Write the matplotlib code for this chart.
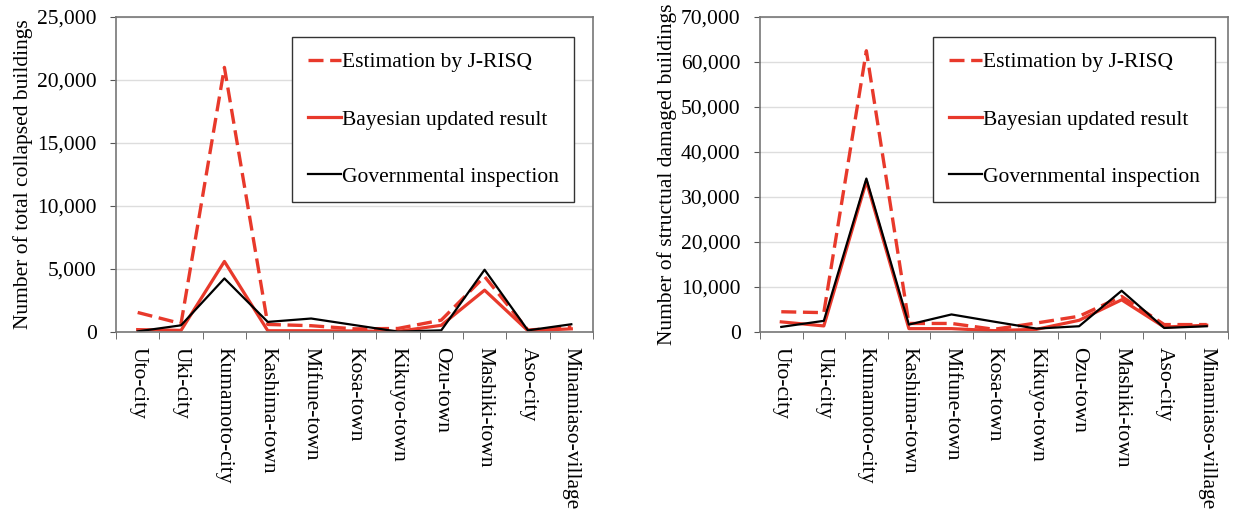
import matplotlib
matplotlib.use("Agg")
import matplotlib.pyplot as plt
from matplotlib.ticker import FuncFormatter, FixedLocator
import numpy as np

plt.rcParams['font.family'] = ['Liberation Serif', 'DejaVu Serif']

categories = ["Uto-city", "Uki-city", "Kumamoto-city", "Kashima-town", "Mifune-town",
              "Kosa-town", "Kikuyo-town", "Ozu-town", "Mashiki-town", "Aso-city",
              "Minamiaso-village"]

collapsed_jrisq = [1550, 670, 21000, 600, 500, 250, 280, 940, 4400, 150, 400]
collapsed_bayes = [190, 130, 5600, 100, 100, 80, 50, 530, 3320, 100, 250]
collapsed_gov = [50, 530, 4250, 800, 1070, 550, 30, 130, 4940, 130, 615]

damaged_jrisq = [4500, 4300, 62500, 1900, 1900, 600, 2000, 3500, 7900, 1650, 1650]
damaged_bayes = [2250, 1350, 33500, 750, 750, 300, 600, 2600, 7150, 1100, 1500]
damaged_gov = [1130, 2480, 34100, 1650, 3900, 2300, 750, 1280, 9170, 900, 1280]

labels = ["Estimation by J-RISQ", "Bayesian updated result", "Governmental inspection"]
red = "#e8392b"

fig = plt.figure(figsize=(12.34, 5.11), dpi=100)
ax1 = fig.add_axes([116/1234, 1-332/511, 477/1234, 315/511])
ax2 = fig.add_axes([760/1234, 1-332/511, 468/1234, 315/511])

FS = 15.5

def draw(ax, jr, ba, gv, ymax, step, ylabel, leg_w):
    x = np.arange(len(categories))
    ax.plot(x, jr, color=red, lw=2.4, ls=(0, (4.5, 2.0)), label=labels[0])
    ax.plot(x, ba, color=red, lw=2.3, label=labels[1])
    ax.plot(x, gv, color="black", lw=1.6, label=labels[2])
    ax.set_xlim(-0.5, len(categories) - 0.5)
    ax.set_ylim(0, ymax)
    ax.set_yticks(np.arange(0, ymax + 1, step))
    ax.yaxis.set_major_formatter(FuncFormatter(lambda v, p: f"{int(v):,}"))
    ax.set_xticks(x)
    ax.set_xticklabels(categories, rotation=270, fontsize=FS, va="top", ha="center")
    ax.xaxis.set_minor_locator(FixedLocator(np.arange(-0.5, len(categories), 1)))
    ax.tick_params(axis="x", which="major", length=0, pad=11)
    ax.tick_params(axis="x", which="minor", length=5, color="#555555", direction="out")
    ax.tick_params(axis="y", length=4, color="#555555", labelsize=FS, pad=10)
    ax.grid(axis="y", color="#dddddd", lw=1)
    ax.set_axisbelow(True)
    for s in ax.spines.values():
        s.set_color("#777777")
        s.set_linewidth(1.2)
    ax.set_ylabel(ylabel, fontsize=FS, labelpad=3)
    leg = ax.legend(loc="upper left", bbox_to_anchor=(leg_w, 0.937), fontsize=FS,
                    frameon=True, fancybox=False, edgecolor="#333333", framealpha=1,
                    handlelength=1.55, handletextpad=0.05, labelspacing=1.72,
                    borderpad=0.72, borderaxespad=0)
    leg.get_frame().set_linewidth(1.0)

draw(ax1, collapsed_jrisq, collapsed_bayes, collapsed_gov, 25000, 5000,
     "Number of total collapsed buildings", (292 - 116) / 477)
draw(ax2, damaged_jrisq, damaged_bayes, damaged_gov, 70000, 10000,
     "Number of structual damaged buildings", (933 - 760) / 468)

fig.savefig("out.png", dpi=100)
